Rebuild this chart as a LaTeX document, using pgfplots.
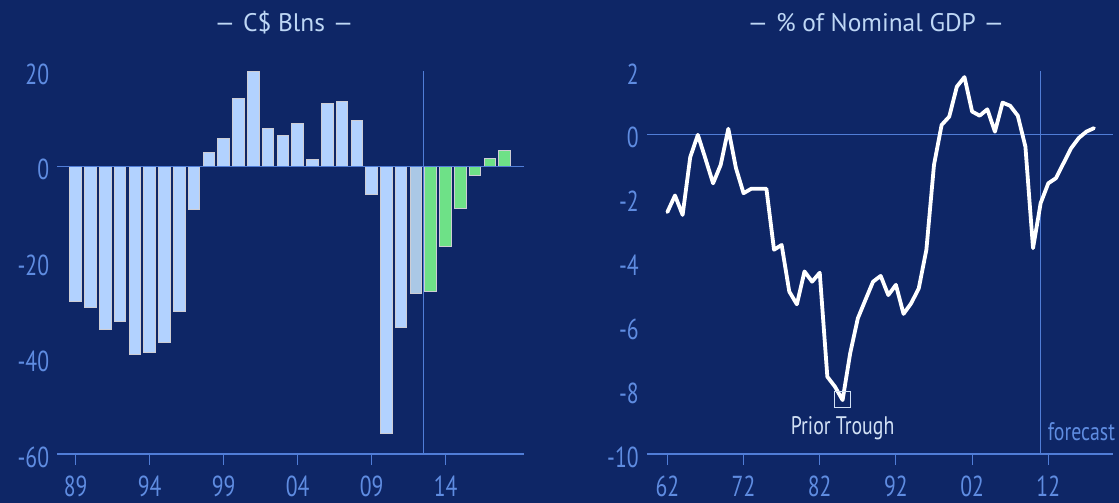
\documentclass[border=0pt]{standalone}
\usepackage{fontspec}
\usepackage{graphicx}
\usepackage{pgfplots}
\pgfplotsset{compat=1.18}
\setmainfont{PT Sans}
\newfontfamily\titlefont{PT Sans}[Ligatures=TeX]
\newfontfamily\tickfont{PT Sans}[FakeStretch=0.75]
\newfontfamily\annfont{PT Sans}[FakeStretch=0.78]
\newcommand{\wdash}{\scalebox{1.35}[1]{–}}
\definecolor{bg}{RGB}{14,38,102}
\definecolor{tickc}{RGB}{95,140,225}
\definecolor{axisc}{RGB}{80,125,215}
\definecolor{barblue}{RGB}{178,210,255}
\definecolor{bargray}{RGB}{170,200,230}
\definecolor{bargreen}{RGB}{110,225,135}
\definecolor{barline}{RGB}{205,205,212}
\definecolor{titlec}{RGB}{190,215,245}
\definecolor{annc}{RGB}{210,225,245}
\pgfplotsset{
  common/.style={
    scale only axis,
    height=383bp,
    axis x line*=bottom,
    axis y line*=left,
    y axis line style={draw=none},
    ytick style={draw=none},
    x axis line style={color=axisc, line width=1.3bp, -},
    xtick style={color=axisc, line width=1.1bp},
    tick align=outside,
    major tick length=11bp,
    ticklabel style={font=\tickfont\fontsize{29}{32}\selectfont, text=tickc},
    yticklabel style={anchor=east, inner sep=0pt, xshift=3bp, yshift=-3bp},
    xticklabel style={anchor=north, inner sep=0pt, yshift=-11bp},
    clip=false,
  }
}
\begin{document}
\begin{tikzpicture}[x=1bp,y=1bp]
\fill[bg] (0,0) rectangle (1119,-503);
% ---------- left panel ----------
\begin{axis}[common,
  at={(57.3bp,-454bp)}, anchor=south west,
  width=466.7bp,
  xmin=1987.76, xmax=2019.3, ymin=-60, ymax=20,
  xtick={1989,1994,1999,2004,2009,2014},
  xticklabels={89,94,99,04,09,14},
  ytick={-60,-40,-20,0,20},
  yticklabels={-60,-40,-20,0,20},
  ybar, bar width=11.6bp, bar shift=0pt,
]
\addplot[fill=barblue, draw=barline, line width=1bp] coordinates {
(1989,-28.1) (1990,-29.3) (1991,-34.0) (1992,-32.4) (1993,-39.2)
(1994,-38.7) (1995,-36.8) (1996,-30.2) (1997,-8.9) (1998,2.9)
(1999,5.8) (2000,14.2) (2001,19.9) (2002,8.0) (2003,6.6)
(2004,9.1) (2005,1.5) (2006,13.3) (2007,13.7) (2008,9.6)
(2009,-5.9) (2010,-55.8) (2011,-33.6)};
\addplot[fill=bargray, draw=barline, line width=1bp] coordinates {(2012,-26.4)};
\addplot[fill=bargreen, draw=barline, line width=1bp] coordinates {
(2013,-26.1) (2014,-16.7) (2015,-8.7) (2016,-1.9) (2017,1.7) (2018,3.3)};
\draw[axisc, line width=1.3bp] (axis cs:1987.76,0) -- (axis cs:2019.3,0);
\draw[axisc, line width=1.3bp] (axis cs:2012.5,-60) -- (axis cs:2012.5,20);
\end{axis}
% ---------- right panel ----------
\begin{axis}[common,
  at={(646.8bp,-454bp)}, anchor=south west,
  width=466.2bp,
  xmin=1959.3, xmax=2020.5, ymin=-10, ymax=2,
  xtick={1962,1972,1982,1992,2002,2012},
  xticklabels={62,72,82,92,02,12},
  ytick={-10,-8,-6,-4,-2,0,2},
  yticklabels={-10,-8,-6,-4,-2,0,2},
]
\draw[axisc, line width=1.3bp] (axis cs:1959.3,0) -- (axis cs:2020.5,0);
\draw[axisc, line width=1.3bp] (axis cs:2011,-10) -- (axis cs:2011,2);
\addplot[white, line width=3.8bp, line join=round, line cap=round, mark=none] coordinates {
(1962,-2.42) (1963,-1.90) (1964,-2.51) (1965,-0.70) (1966,0.0)
(1967,-0.75) (1968,-1.52) (1969,-0.94) (1970,0.19) (1971,-1.04)
(1972,-1.83) (1973,-1.69) (1974,-1.69) (1975,-1.69) (1976,-3.6)
(1977,-3.45) (1978,-4.91) (1979,-5.31) (1980,-4.28) (1981,-4.60)
(1982,-4.32) (1983,-7.58) (1984,-7.89) (1985,-8.31) (1986,-6.84)
(1987,-5.75) (1988,-5.17) (1989,-4.60) (1990,-4.42) (1991,-5.02)
(1992,-4.70) (1993,-5.61) (1994,-5.28) (1995,-4.81) (1996,-3.6)
(1997,-0.94) (1998,0.31) (1999,0.57) (2000,1.51) (2001,1.81)
(2002,0.73) (2003,0.60) (2004,0.80) (2005,0.10) (2006,1.01)
(2007,0.91) (2008,0.60) (2009,-0.37) (2010,-3.55) (2011,-2.14)
(2012,-1.52) (2013,-1.36) (2014,-0.89) (2015,-0.42) (2016,-0.10)
(2017,0.10) (2018,0.21)};
\addplot[only marks, mark=square, mark size=7.8bp, mark options={draw=annc, line width=1bp}] coordinates {(1985,-8.3)};
\node[text=annc, font=\annfont\fontsize{25.5}{28}\selectfont] at (axis cs:1985,-9.2) {Prior Trough};
\node[text=tickc, anchor=west, inner sep=0pt, font=\annfont\fontsize{25.5}{28}\selectfont] at ([xshift=7bp]axis cs:2011,-9.3) {forecast};
\end{axis}
% ---------- titles ----------
\node[text=titlec, font=\titlefont\fontsize{25.5}{28}\selectfont] at (284,-23) {\wdash{} C\$ Blns \wdash};
\node[text=titlec, font=\titlefont\fontsize{25.5}{28}\selectfont] at (876,-23) {\wdash{} \% of Nominal GDP \wdash};
\pgfresetboundingbox
\path (0,0) rectangle (1119,-503);
\end{tikzpicture}
\end{document}
